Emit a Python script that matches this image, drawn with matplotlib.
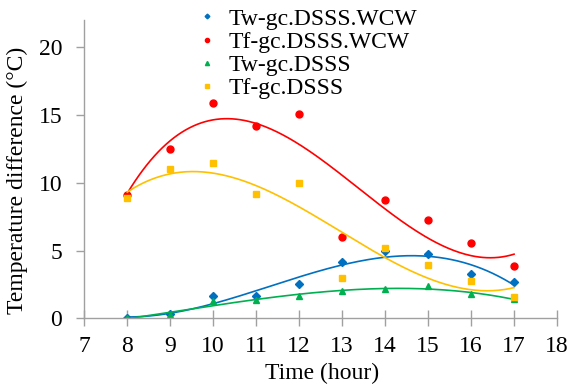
import numpy as np
import matplotlib.pyplot as plt

plt.rcParams["font.family"] = ["Liberation Serif", "DejaVu Serif"]

hours = [8, 9, 10, 11, 12, 13, 14, 15, 16, 17]
tw_wcw = [0.02, 0.35, 1.65, 1.65, 2.5, 4.15, 5.0, 4.75, 3.3, 2.7]
tf_wcw = [9.1, 12.5, 15.9, 14.2, 15.05, 6.0, 8.7, 7.25, 5.55, 3.85]
tw_dsss = [0.0, 0.25, 1.25, 1.35, 1.65, 2.0, 2.2, 2.35, 1.8, 1.4]
tf_dsss = [8.85, 11.05, 11.45, 9.15, 9.95, 2.95, 5.2, 3.9, 2.75, 1.6]

series = [
    ("Tw-gc.DSSS.WCW", tw_wcw, "#0070C0", "D", 4),
    ("Tf-gc.DSSS.WCW", tf_wcw, "#FF0000", "o", 5),
    ("Tw-gc.DSSS", tw_dsss, "#00B050", "^", 5),
    ("Tf-gc.DSSS", tf_dsss, "#FFC000", "s", 5),
]

fig = plt.figure(figsize=(5.71, 3.85), dpi=100)
ax = fig.add_axes([0.1476, 0.1732, 0.8279, 0.7743])

# markers + cubic trend lines
xs = np.linspace(8, 17, 200)
for name, vals, color, marker, ms in series:
    ax.plot(hours, vals, linestyle="none", marker=marker, color=color,
            markersize=ms, label=name)
    coef = np.polyfit(hours, vals, 3)
    ax.plot(xs, np.polyval(coef, xs), color=color, linewidth=1.2)

ax.set_xlim(7, 18)
ax.set_ylim(0, 22)
ax.set_xticks(range(7, 19))
ax.set_yticks([0, 5, 10, 15, 20])
ax.set_xlabel("Time (hour)", fontsize=17)
ax.set_ylabel("Temperature difference (\u00b0C)", fontsize=17)
ax.xaxis.set_label_coords(0.502, -0.15)
ax.yaxis.set_label_coords(-0.119, 0.464)
ax.tick_params(labelsize=17, color="#a0a0a0", length=6, width=1)
ax.tick_params(axis="x", direction="inout", length=12, pad=7)
ax.tick_params(axis="y", pad=10)

for side in ["top", "right"]:
    ax.spines[side].set_visible(False)
for side in ["left", "bottom"]:
    ax.spines[side].set_color("#a0a0a0")
    ax.spines[side].set_linewidth(1)

ax.legend(loc="upper left", bbox_to_anchor=(0.22, 1.08), frameon=False,
          fontsize=17, markerscale=0.6, handlelength=0.6, handletextpad=0.6,
          labelspacing=0.07, borderpad=0)

fig.savefig("out.png", dpi=100)
